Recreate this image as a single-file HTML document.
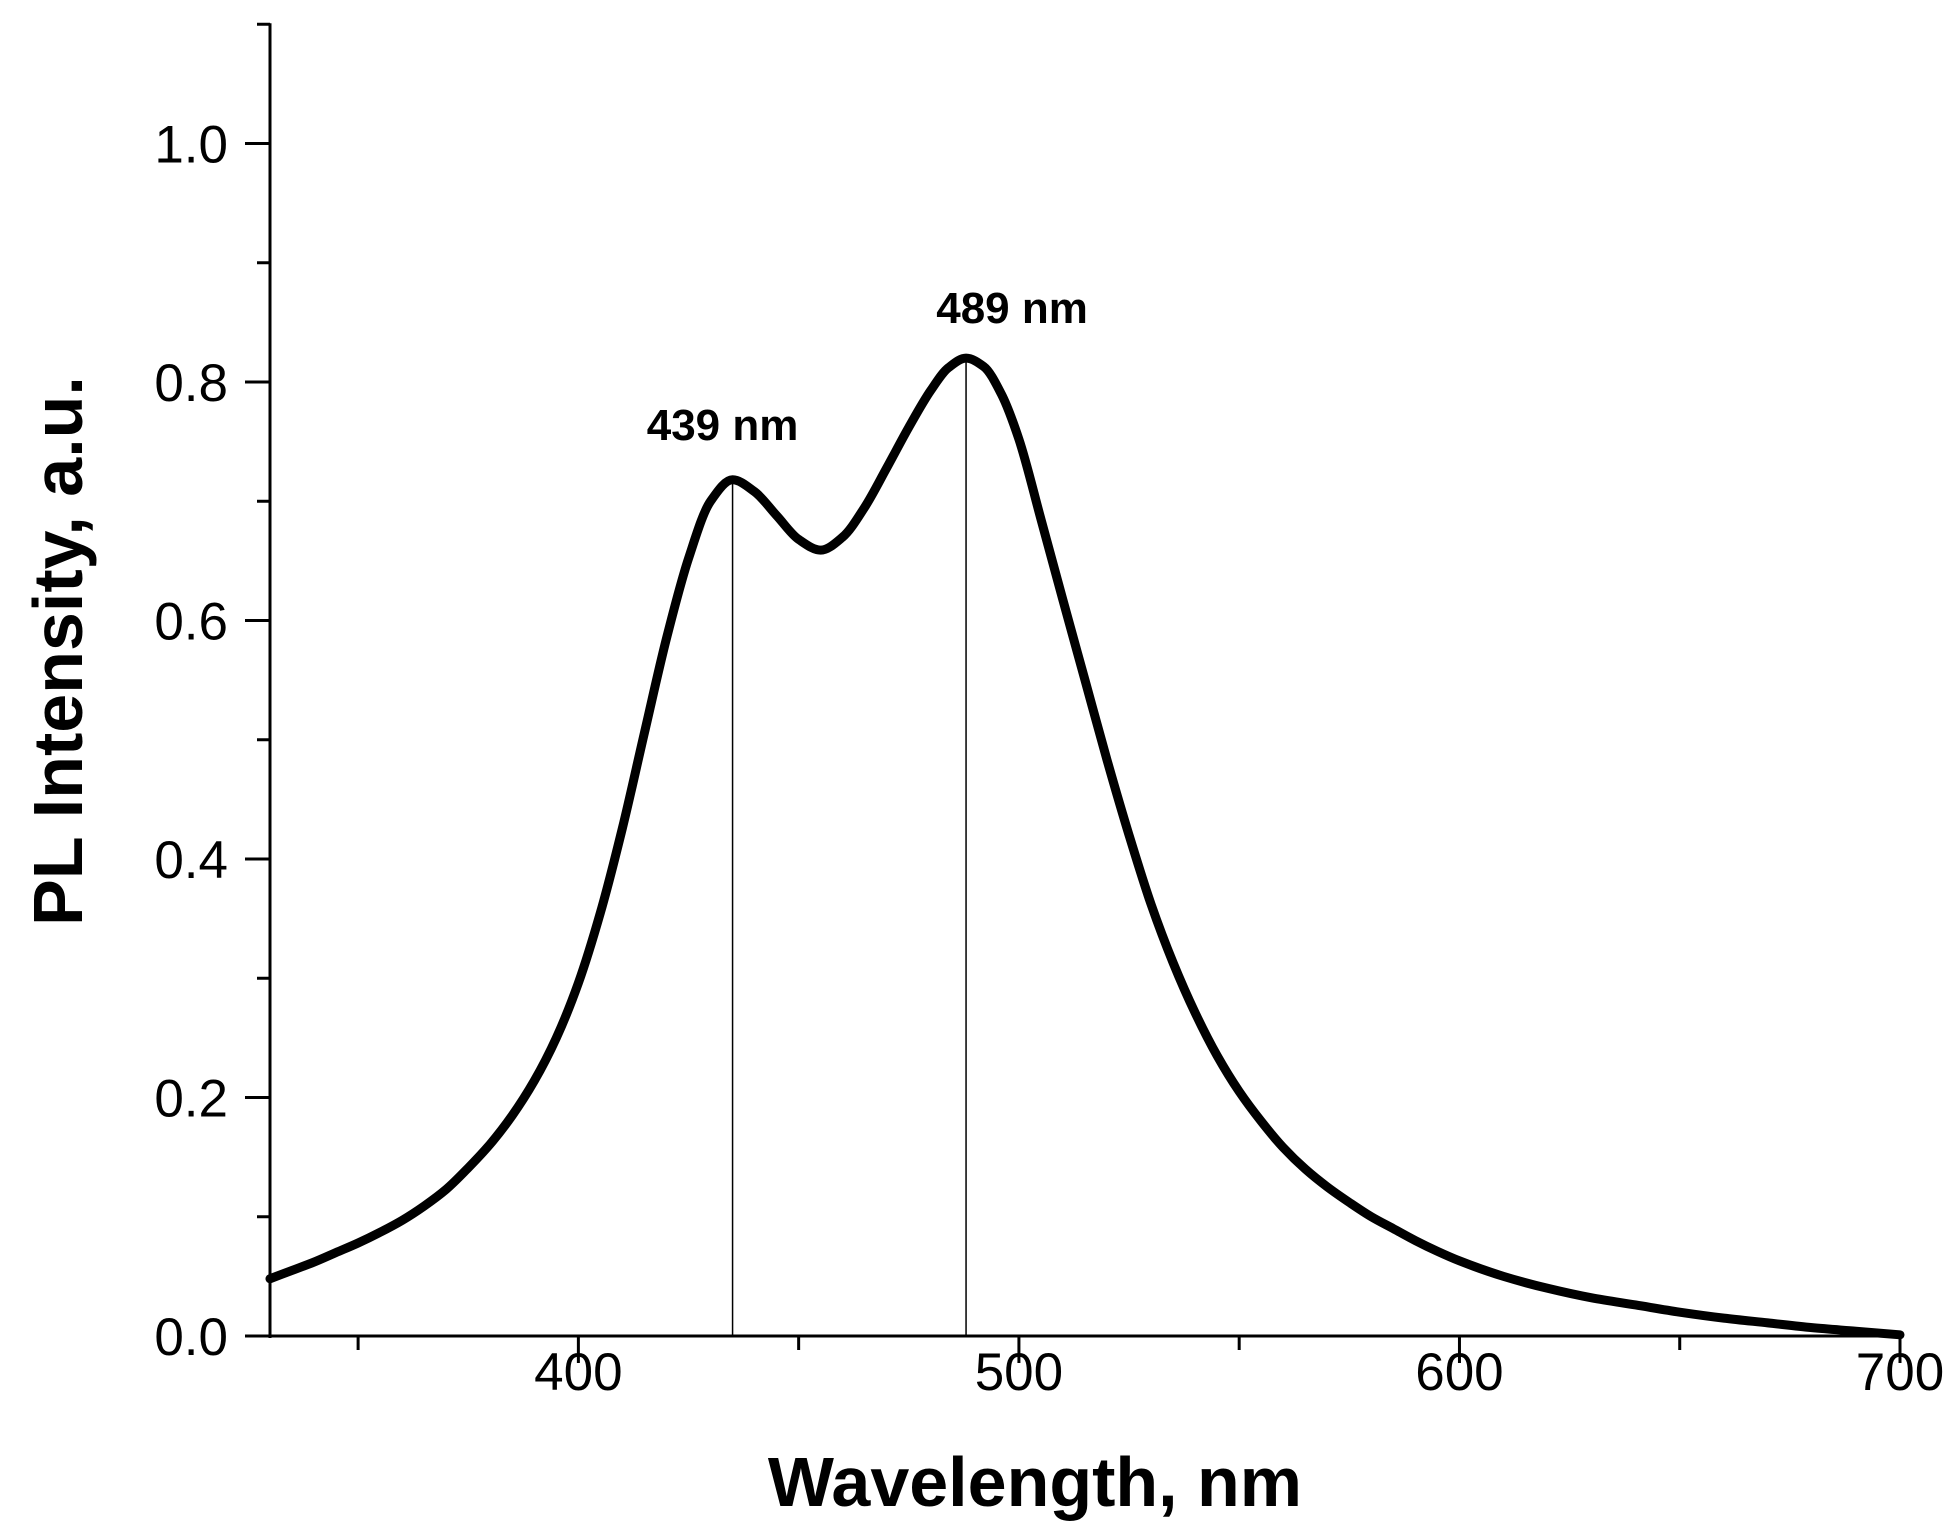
<!DOCTYPE html>
<html><head><meta charset="utf-8"><style>
html,body{margin:0;padding:0;background:#fff;}
svg{display:block;font-family:"Liberation Sans",Arial,sans-serif;}
</style></head><body>
<svg id="chart" width="1954" height="1538" viewBox="0 0 1954 1538" xmlns="http://www.w3.org/2000/svg">
<g id="axes"></g>
<g id="series"></g>
<text transform="translate(82,651) rotate(-90)" text-anchor="middle" font-size="70" font-weight="bold">PL Intensity, a.u.</text>
<text x="1035" y="1506" text-anchor="middle" font-size="70" font-weight="bold">Wavelength, nm</text>
</svg>
<script>
const wavelengths = [330,335,340,345,350,355,360,365,370,375,380,385,390,395,400,405,410,415,420,425,430,435,440,445,450,455,460,465,470,475,480,484,488,492,496,500,505,510,515,520,525,530,535,540,545,550,555,560,565,570,575,580,585,590,595,600,610,620,630,640,650,660,670,680,690,700];
const intensity = [0.048,0.055,0.062,0.070,0.078,0.087,0.097,0.109,0.123,0.141,0.161,0.185,0.214,0.25,0.296,0.355,0.426,0.506,0.585,0.652,0.700,0.718,0.708,0.688,0.668,0.659,0.670,0.695,0.728,0.762,0.793,0.812,0.82,0.813,0.79,0.752,0.685,0.617,0.55,0.483,0.42,0.362,0.313,0.271,0.235,0.205,0.18,0.158,0.14,0.125,0.112,0.1,0.09,0.08,0.071,0.063,0.05,0.04,0.032,0.026,0.02,0.015,0.011,0.007,0.004,0.001];
const peakPositions = [435, 488];
const peakLabels = ["439 nm", "489 nm"];
const xTicks = [400,500,600,700];
const xMinor = [350,450,550,650];
const yTicks = [0.0,0.2,0.4,0.6,0.8,1.0];
const yMinor = [0.1,0.3,0.5,0.7,0.9,1.1];

const NS="http://www.w3.org/2000/svg";
const X0=270, X1=1900, XMIN=330, XMAX=700;
const Y0=1336, YSCALE=1192.5;
const xs=v=>X0+(v-XMIN)/(XMAX-XMIN)*(X1-X0);
const ys=v=>Y0-v*YSCALE;
function mk(tag,parent,attrs){const e=document.createElementNS(NS,tag);for(const k in attrs)e.setAttribute(k,attrs[k]);parent.appendChild(e);return e;}
const axes=document.getElementById('axes');
const series=document.getElementById('series');

let e=mk('line',axes,{x1:X0,y1:ys(1.1)-1,x2:X0,y2:Y0+2,stroke:'#000','stroke-width':3});


e=mk('line',axes,{x1:X0-1,y1:Y0,x2:X1+1,y2:Y0,stroke:'#000','stroke-width':3});



yTicks.forEach(v=>{
  const t=mk('line',axes,{x1:X0-25,y1:ys(v),x2:X0,y2:ys(v),stroke:'#000','stroke-width':3});
  
  
  const l=mk('text',axes,{x:X0-42,y:ys(v)+19,'text-anchor':'end','font-size':53});
  l.textContent=v.toFixed(1);
  
  
});
yMinor.forEach(v=>{
  const t=mk('line',axes,{x1:X0-13,y1:ys(v),x2:X0,y2:ys(v),stroke:'#000','stroke-width':3});
  
  
});
xTicks.forEach(v=>{
  const t=mk('line',axes,{x1:xs(v),y1:Y0,x2:xs(v),y2:Y0+27,stroke:'#000','stroke-width':3});
  
  
  const l=mk('text',axes,{x:xs(v),y:1390,'text-anchor':'middle','font-size':53});
  l.textContent=String(v);
  
  
});
xMinor.forEach(v=>{
  const t=mk('line',axes,{x1:xs(v),y1:Y0,x2:xs(v),y2:Y0+14,stroke:'#000','stroke-width':3});
  
  
});

const px=wavelengths.map(xs), py=intensity.map(ys);
const n=px.length, dx=[], sl=[], m=new Array(n);
for(let i=0;i<n-1;i++){dx[i]=px[i+1]-px[i];sl[i]=(py[i+1]-py[i])/dx[i];}
m[0]=sl[0];m[n-1]=sl[n-2];
for(let i=1;i<n-1;i++){
  if(sl[i-1]*sl[i]<=0)m[i]=0;
  else{const w1=2*dx[i]+dx[i-1],w2=dx[i]+2*dx[i-1];m[i]=(w1+w2)/(w1/sl[i-1]+w2/sl[i]);}
}
let d='M'+px[0]+','+py[0];
for(let i=0;i<n-1;i++){
  const h=dx[i]/3;
  d+=` C${px[i]+h},${py[i]+m[i]*h} ${px[i+1]-h},${py[i+1]-m[i+1]*h} ${px[i+1]},${py[i+1]}`;
}
function interp(w){for(let i=0;i<wavelengths.length-1;i++){if(w>=wavelengths[i]&&w<=wavelengths[i+1]){const f=(w-wavelengths[i])/(wavelengths[i+1]-wavelengths[i]);return intensity[i]+f*(intensity[i+1]-intensity[i]);}}return 0;}
peakPositions.forEach((w,i)=>{
  const v=interp(w);
  const ln=mk('line',series,{x1:xs(w),y1:Y0,x2:xs(w),y2:ys(v),stroke:'#000','stroke-width':1.5});
  
  
  const tx=mk('text',series,{x:xs(w)-10+(i==1?56:0),y:ys(v)-(i==1?35:40),'text-anchor':'middle','font-size':44,'font-weight':'bold'});
  tx.textContent=peakLabels[i];
  
  
});
const path=mk('path',series,{d:d,fill:'none',stroke:'#000','stroke-width':9,'stroke-linejoin':'round','stroke-linecap':'round'});


</script>
</body></html>
